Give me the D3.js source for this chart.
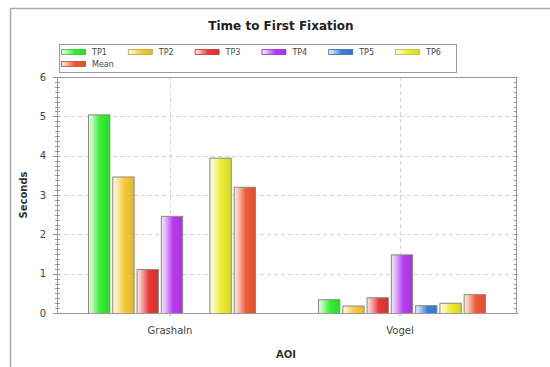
<!DOCTYPE html>
<html>
<head>
<meta charset="utf-8">
<script src="https://cdn.jsdelivr.net/npm/d3@7"></script>
<style>
  html, body { margin: 0; padding: 0; background: #fff; }
  svg { display: block; font-family: "DejaVu Sans", Verdana, sans-serif; }
</style>
</head>
<body>
<svg id="chart" width="550" height="367"></svg>
<script>
// Time to first fixation per area of interest, one bar per test person plus the mean
const categories = ["Grashaln", "Vogel"];
const seriesNames = ["TP1", "TP2", "TP3", "TP4", "TP5", "TP6", "Mean"];
const seriesColors = ["#33ee33", "#f6c83a", "#e83838", "#b63cf0", "#3a7fd8", "#eaea30", "#ec5a36"];
const grashalnValues = [5.05, 3.47, 1.12, 2.47, null, 3.95, 3.21];
const vogelValues = [0.35, 0.19, 0.40, 1.49, 0.20, 0.26, 0.48];
const yTicks = [0, 1, 2, 3, 4, 5, 6];

const valuesByCategory = { "Grashaln": grashalnValues, "Vogel": vogelValues };
const FONT = "DejaVu Sans, Verdana, sans-serif";

const svg = d3.select("#chart");
const plot = { left: 57, right: 517, top: 77, bottom: 313 };

// Outer chart frame (runs off the right and bottom edges)
svg.append("rect")
  .attr("x", 10.5).attr("y", 8.5)
  .attr("width", 600).attr("height", 400)
  .attr("fill", "#fff").attr("stroke", "#aaa").attr("stroke-width", 1.5);

// Title
svg.append("text")
  .attr("x", 281).attr("y", 30)
  .attr("text-anchor", "middle")
  .attr("font-size", 12).attr("font-weight", "bold").attr("fill", "#222")
  .text("Time to First Fixation");

const x = d3.scaleBand().domain(categories).range([plot.left, plot.right]).padding(0);
const y = d3.scaleLinear().domain([0, 6]).range([plot.bottom, plot.top]);
const groupWidth = 168;
const xInner = d3.scaleBand().domain(seriesNames)
  .range([(x.bandwidth() - groupWidth) / 2, (x.bandwidth() + groupWidth) / 2])
  .paddingInner(0.08);

// Gradients: light on the left, saturated towards the right
const defs = svg.append("defs");
seriesNames.forEach((name, i) => {
  const base = d3.color(seriesColors[i]);
  const g = defs.append("linearGradient").attr("id", "grad" + i)
    .attr("x1", "0%").attr("x2", "100%").attr("y1", "0%").attr("y2", "0%");
  g.append("stop").attr("offset", "0%").attr("stop-color", d3.interpolateRgb(base, "#fff")(0.85));
  g.append("stop").attr("offset", "15%").attr("stop-color", d3.interpolateRgb(base, "#fff")(0.7));
  g.append("stop").attr("offset", "55%").attr("stop-color", base.formatHex());
  g.append("stop").attr("offset", "100%").attr("stop-color", base.darker(0.25).formatHex());
});

// Plot background
svg.append("rect")
  .attr("x", plot.left).attr("y", plot.top)
  .attr("width", plot.right - plot.left).attr("height", plot.bottom - plot.top)
  .attr("fill", "#fff");

// Grid lines
const grid = svg.append("g").attr("stroke", "#d4d4d4").attr("stroke-dasharray", "4,3").attr("stroke-width", 1);
yTicks.slice(1, -1).forEach(t => {
  grid.append("line")
    .attr("x1", plot.left).attr("x2", plot.right)
    .attr("y1", Math.round(y(t)) + 0.5).attr("y2", Math.round(y(t)) + 0.5);
});
categories.forEach(c => {
  const cx = Math.round(x(c) + x.bandwidth() / 2) - 1.5;
  grid.append("line").attr("x1", cx).attr("x2", cx).attr("y1", plot.top).attr("y2", plot.bottom);
});

// Bars
categories.forEach(c => {
  const vals = valuesByCategory[c];
  const g = svg.append("g").attr("transform", `translate(${x(c)},0)`);
  seriesNames.forEach((name, i) => {
    const v = vals[i];
    if (v == null) return;
    g.append("rect")
      .attr("x", xInner(name) + 0.5)
      .attr("y", y(v) + 0.5)
      .attr("width", xInner.bandwidth() - 1)
      .attr("height", y(0) - y(v))
      .attr("fill", `url(#grad${i})`)
      .attr("stroke", "#8a8a7a").attr("stroke-width", 1);
  });
});

// Plot border
svg.append("rect")
  .attr("x", plot.left + 0.5).attr("y", plot.top + 0.5)
  .attr("width", plot.right - plot.left - 1).attr("height", plot.bottom - plot.top)
  .attr("fill", "none").attr("stroke", "#9a9a9a").attr("stroke-width", 1);

// Minor ticks on left and right axis
const minor = d3.range(0, 6.0001, 0.125);
const tickG = svg.append("g").attr("stroke", "#999").attr("stroke-width", 1);
minor.forEach(t => {
  const yy = Math.round(y(t)) + 0.5;
  const major = Math.abs(t - Math.round(t)) < 1e-6;
  tickG.append("line").attr("x1", plot.left - (major ? 4 : 2)).attr("x2", plot.left + 3).attr("y1", yy).attr("y2", yy);
  tickG.append("line").attr("x1", plot.right - 3).attr("x2", plot.right + (major ? 1 : 0)).attr("y1", yy).attr("y2", yy);
});

// Y axis labels
const yAxis = d3.axisLeft(y).tickValues(yTicks).tickSize(0).tickPadding(11).tickFormat(d3.format("d"));
const ya = svg.append("g").attr("transform", `translate(${plot.left},0)`).call(yAxis);
ya.select(".domain").remove();
ya.selectAll("text").attr("font-size", 10).attr("fill", "#444").attr("font-family", FONT);

// X axis labels
const xAxis = d3.axisBottom(x).tickSize(3).tickPadding(11);
const xa = svg.append("g").attr("transform", `translate(-2,${plot.bottom})`).call(xAxis);
xa.select(".domain").remove();
xa.selectAll("line").attr("stroke", "#999");
xa.selectAll("text").attr("font-size", 10).attr("fill", "#444").attr("font-family", FONT);

// Axis titles
svg.append("text")
  .attr("transform", "translate(27,195) rotate(-90)")
  .attr("text-anchor", "middle")
  .attr("font-size", 10).attr("font-weight", "bold").attr("fill", "#333")
  .text("Seconds");
svg.append("text")
  .attr("x", 286).attr("y", 358)
  .attr("text-anchor", "middle")
  .attr("font-size", 10).attr("font-weight", "bold").attr("fill", "#333")
  .text("AOI");

// Legend
const legend = svg.append("g");
legend.append("rect")
  .attr("x", 59.5).attr("y", 44.5).attr("width", 397).attr("height", 28)
  .attr("fill", "#fff").attr("stroke", "#999").attr("stroke-width", 1);
seriesNames.forEach((name, i) => {
  const row = i < 6 ? 0 : 1;
  const col = i < 6 ? i : 0;
  const lx = 61 + col * 66.8;
  const ly = 52 + row * 12;
  legend.append("rect")
    .attr("x", lx + 0.5).attr("y", ly - 2.5).attr("width", 24).attr("height", 5)
    .attr("fill", `url(#grad${i})`).attr("stroke", d3.color(seriesColors[i]).darker(0.6).formatHex()).attr("stroke-width", 0.8);
  legend.append("text")
    .attr("x", lx + 31).attr("y", ly + 3)
    .attr("font-size", 8).attr("fill", "#444")
    .text(name);
});
</script>
</body>
</html>
